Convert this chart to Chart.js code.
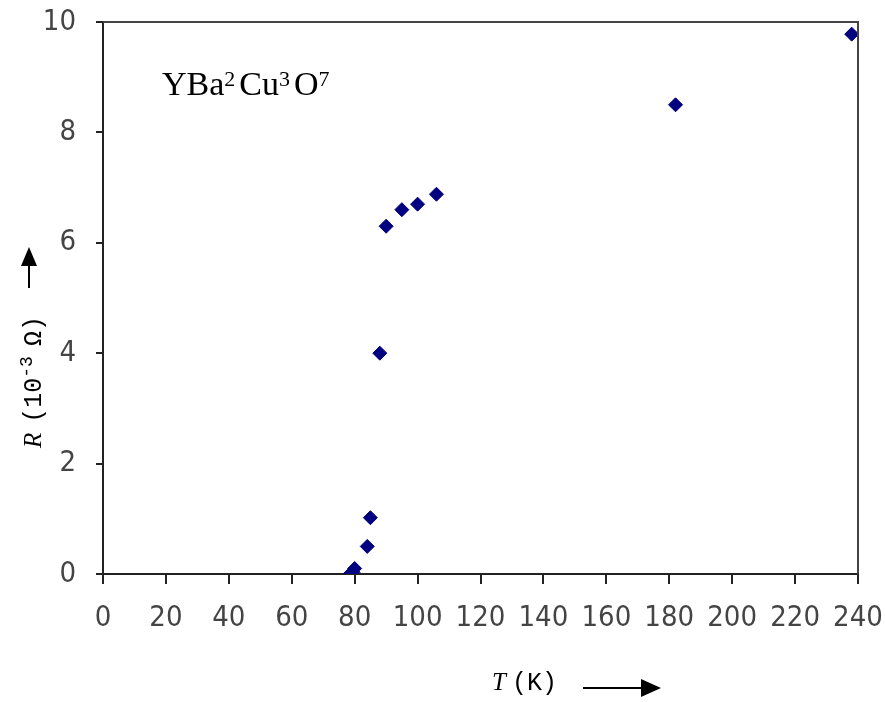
<!DOCTYPE html>
<html>
<head>
<meta charset="utf-8">
<script src="https://cdn.jsdelivr.net/npm/chart.js@4.4.0/dist/chart.umd.min.js"></script>
<style>
  html, body { margin: 0; padding: 0; background: #fff; }
  #wrap { width: 885px; height: 702px; }
</style>
</head>
<body>
<div id="wrap"><canvas id="rt" width="885" height="702"></canvas></div>
<script>
// temperature (K) and resistance (10^-3 ohm)
var tempK = [78.5, 79.5, 80, 84, 85, 88, 90, 95, 100, 106, 182, 238];
var resist = [0, 0.03, 0.1, 0.5, 1.02, 4.0, 6.3, 6.6, 6.7, 6.88, 8.5, 9.78];
var xTicks = [0, 20, 40, 60, 80, 100, 120, 140, 160, 180, 200, 220, 240];
var yTicks = [0, 2, 4, 6, 8, 10];

var points = tempK.map(function (t, i) { return { x: t, y: resist[i] }; });
var tickFont = { family: '"Liberation Sans Narrow", "DejaVu Sans Condensed", "DejaVu Sans"', size: 29 };

// frame + labels drawn on the canvas
var extras = {
    id: 'extras',
    afterDraw: function (chart) {
        var c = chart.ctx, a = chart.chartArea;
        c.save();
        c.strokeStyle = '#444';
        c.lineWidth = 2;
        c.beginPath();
        c.moveTo(a.left, a.top);
        c.lineTo(a.right, a.top);
        c.lineTo(a.right, a.bottom);
        c.stroke();

        // formula
        c.fillStyle = '#000';
        c.textBaseline = 'alphabetic';
        var x = 162, y = 95;
        var parts = [['YBa', 0], ['2', 1], ['Cu', 0], ['3', 1], ['O', 0], ['7', 1]];
        parts.forEach(function (p) {
            c.font = p[1] ? '22px "Liberation Serif"' : '34px "Liberation Serif"';
            c.fillText(p[0], x, p[1] ? y - 9 : y);
            x += c.measureText(p[0]).width + (p[1] ? 4 : 0);
        });

        // x title
        c.font = 'italic 25px "Liberation Serif"';
        c.fillText('T', 492, 690);
        c.font = '25px "Liberation Mono"';
        c.fillText('(K)', 512, 690);
        c.lineWidth = 2;
        c.strokeStyle = '#000';
        c.beginPath();
        c.moveTo(583, 688);
        c.lineTo(645, 688);
        c.stroke();
        c.beginPath();
        c.moveTo(661, 688);
        c.lineTo(641, 679);
        c.lineTo(641, 697);
        c.closePath();
        c.fill();

        // y title (rotated)
        c.save();
        c.translate(41, 448);
        c.rotate(-Math.PI / 2);
        var yx = 0;
        c.font = 'italic 25px "Liberation Serif"';
        c.fillText('R', yx, 0);
        yx += c.measureText('R').width + 10;
        c.font = '25px "Liberation Mono"';
        c.fillText('(10', yx, 0);
        yx += c.measureText('(10').width;
        c.font = '18px "Liberation Mono"';
        c.fillText('-3', yx, -9);
        yx += c.measureText('-3').width + 10;
        c.font = '25px "Liberation Mono"';
        c.fillText('\u03A9)', yx, 0);
        c.restore();

        c.beginPath();
        c.moveTo(29, 288);
        c.lineTo(29, 262);
        c.stroke();
        c.beginPath();
        c.moveTo(29, 247);
        c.lineTo(21, 266);
        c.lineTo(37, 266);
        c.closePath();
        c.fill();
        c.restore();
    }
};

var ctx = document.getElementById('rt').getContext('2d');
var rtChart = new Chart(ctx, {
    type: 'scatter',
    data: {
        datasets: [{
            data: points,
            pointStyle: 'rectRot',
            pointRadius: 7,
            pointBorderWidth: 1,
            pointBackgroundColor: '#000080',
            pointBorderColor: '#000080'
        }]
    },
    options: {
        responsive: false,
        animation: false,
        layout: { padding: { top: 22, right: 27, left: 0, bottom: 0 } },
        plugins: { legend: { display: false }, tooltip: { enabled: false } },
        scales: {
            x: {
                type: 'linear',
                min: 0, max: 240,
                afterBuildTicks: function (s) { s.ticks = xTicks.map(function (v) { return { value: v }; }); },
                afterFit: function (s) { s.height = 128; s.paddingLeft = 0; s.paddingRight = 0; },
                grid: { drawOnChartArea: false, tickLength: 10, color: '#222', lineWidth: 2 },
                border: { color: '#222', width: 2 },
                ticks: { color: '#444', padding: 17, maxRotation: 0, autoSkip: false, font: tickFont }
            },
            y: {
                type: 'linear',
                min: 0, max: 10,
                afterBuildTicks: function (s) { s.ticks = yTicks.map(function (v) { return { value: v }; }); },
                afterFit: function (s) { s.width = 103; s.paddingTop = 0; s.paddingBottom = 0; },
                grid: { drawOnChartArea: false, tickLength: 7, color: '#222', lineWidth: 2 },
                border: { color: '#222', width: 2 },
                ticks: { color: '#444', padding: 20, font: tickFont }
            }
        }
    },
    plugins: [extras]
});
</script>
</body>
</html>
